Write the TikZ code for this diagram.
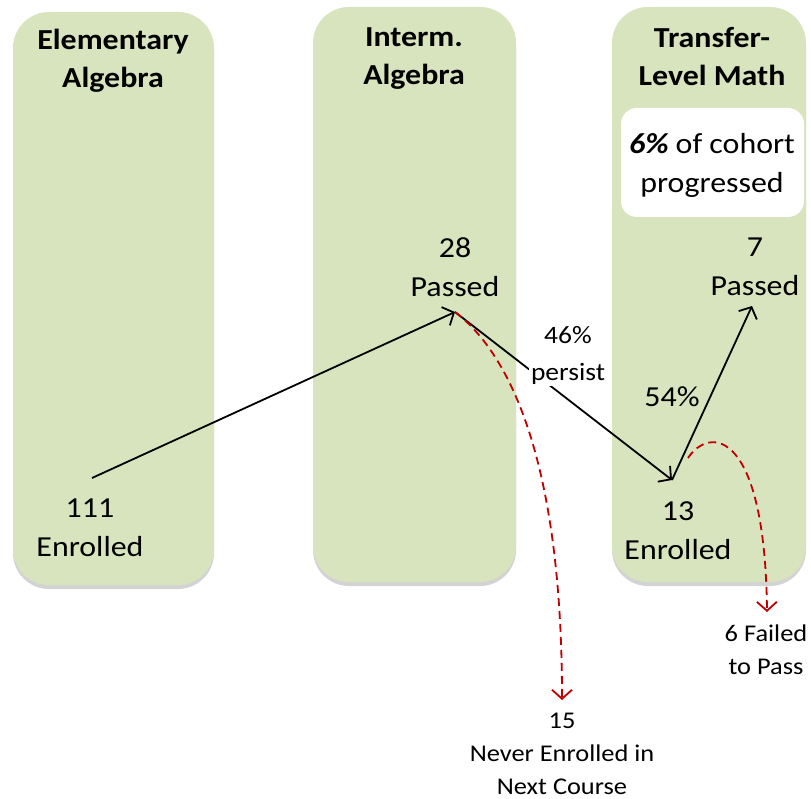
\documentclass[tikz,border=0pt]{standalone}
\usepackage{fontspec}
\setmainfont[FakeStretch=1.1]{Carlito}
\usetikzlibrary{arrows.meta,shadows}
\definecolor{colgreen}{HTML}{D7E4BD}
\definecolor{darkred}{HTML}{C00000}
\tikzset{
  column/.style={fill=colgreen, rounded corners=36pt, drop shadow={shadow xshift=0pt, shadow yshift=-4pt, opacity=0.35}},
  head/.style={font=\fontsize{29}{38}\selectfont\bfseries, align=center, inner sep=0pt},
  big/.style={font=\fontsize{29}{39}\selectfont, align=center, inner sep=0pt},
  small/.style={font=\fontsize{24}{33}\selectfont, align=center, inner sep=0pt},
  flow/.style={line width=1.8pt, -{Straight Barb[length=9pt,width=20pt,line width=1.8pt]}},
  lost/.style={line width=1.8pt, darkred, dash pattern=on 8pt off 5pt, -{Straight Barb[length=9pt,width=20pt,line width=1.8pt]}}
}
\begin{document}
\begin{tikzpicture}[x=1pt,y=-1pt]
\useasboundingbox (0,0) rectangle (811,799);
% columns
\path[column] (13,12) rectangle (214,585);
\path[column] (313,7) rectangle (516,582);
\path[column] (612,7) rectangle (806,582);
\fill[white, rounded corners=16pt] (621,108) rectangle (804,217);
% headings
\node[head] (h1) at (113,61) {Elementary\\Algebra};
\node[head] (h2) at (414,59) {Interm.\\Algebra};
\node[head] (h3) at (712,57) {Transfer-\\Level Math};
\node[big] (cohort) at (712,165) {\textbf{\itshape 6\%} of cohort\\progressed};
% counts
\node[big] (n111) at (90,528) {111\\Enrolled};
\node[big] (n28) at (455,267) {28\\Passed};
\node[big] (n7) at (755,267) {7\\Passed};
\node[big] (n13) at (678,531) {13\\Enrolled};
\node[big] (p54) at (672,397) {54\%};
% connector end points
\coordinate (a) at (92,478);
\coordinate (b) at (455,312);
\coordinate (c) at (672,480);
\coordinate (d) at (752,306);
\coordinate (e) at (688,458);
\coordinate (f) at (562,700);
\coordinate (g) at (767,612);
% arrows
\draw[flow] (a) -- (b);
\draw[flow] (b) -- (c);
\draw[flow] (c) -- (d);
\draw[lost] (b) .. controls (505,350) and (562,450) .. (f);
\draw[lost] (e) .. controls (710,425) and (765,430) .. (g);
% labels
\node[small, fill=white, inner sep=2pt, font=\fontsize{25}{37}\selectfont] (p46) at (568,355) {46\%\\persist};
\node[small] (fail) at (766,650) {6 Failed\\to Pass};
\node[small] (never) at (562,754) {15\\Never Enrolled in\\Next Course};
\end{tikzpicture}
\end{document}
